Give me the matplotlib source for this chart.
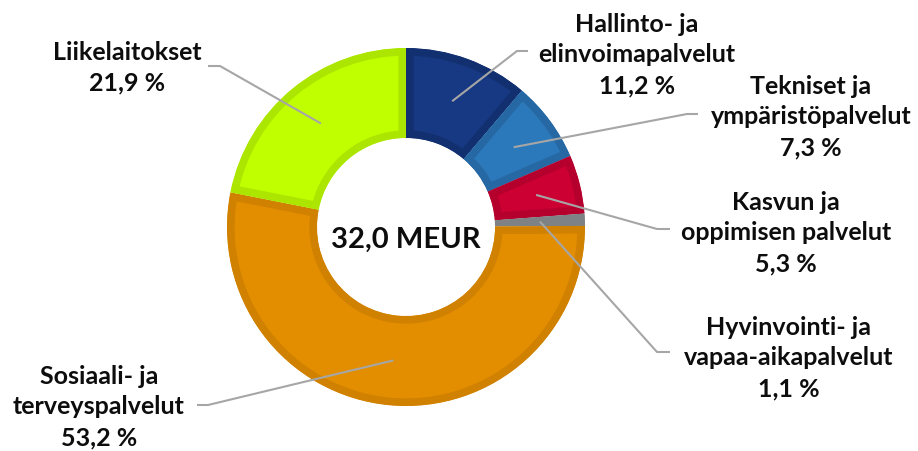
import numpy as np
import matplotlib.pyplot as plt

# data
categories = ['Hallinto- ja\nelinvoimapalvelut', 'Tekniset ja\nympäristöpalvelut',
              'Kasvun ja\noppimisen palvelut', 'Hyvinvointi- ja\nvapaa-aikapalvelut',
              'Sosiaali- ja\nterveyspalvelut', 'Liikelaitokset']
shares = [11.2, 7.3, 5.3, 1.1, 53.2, 21.9]
share_labels = ['11,2 %', '7,3 %', '5,3 %', '1,1 %', '53,2 %', '21,9 %']
total_label = '32,0 MEUR'

fill_colors = ['#173882', '#2B78BA', '#CC0033', '#8C9094', '#E38E00', '#BFFF00']
edge_colors = ['#12306F', '#2668A3', '#B5002E', '#7E8285', '#D08100', '#ACE500']

# layout (pixel coords, y from top)
W, H = 918, 452
center = (406, 228)
r_out, r_in = 179, 89
label_pos = [(637, 55), (811, 117), (786, 233), (789, 358), (99, 407), (127, 68)]
knees = [(517, 52), (687, 115), (657, 230), (657, 353), (208, 406), (220, 67)]
ends = [(528, 52), (698, 115), (670, 230), (670, 353), (197, 406), (208, 67)]

plt.rcParams['font.family'] = ['Lato', 'DejaVu Sans']


def fy(y):
    return H - y


fig = plt.figure(figsize=(W / 100, H / 100), dpi=100)
ax = fig.add_axes([0, 0, 1, 1])

wedges, _ = ax.pie(shares, colors=fill_colors, startangle=90, counterclock=False,
                   radius=r_out, center=(center[0], fy(center[1])),
                   wedgeprops=dict(width=r_out - r_in, linewidth=0))

# darker inner border on each slice (stroke clipped to the slice itself)
for w, ec in zip(wedges, edge_colors):
    w.set_edgecolor(ec)
    w.set_linewidth(11)
    w.set_clip_on(True)
    w.set_clip_path(w)

# leader lines from mid-ring of each slice
r_mid = (r_out + r_in) / 2
for w, knee, end in zip(wedges, knees, ends):
    ang = np.deg2rad((w.theta1 + w.theta2) / 2)
    px = w.center[0] + r_mid * np.cos(ang)
    py = w.center[1] + r_mid * np.sin(ang)
    ax.plot([px, knee[0], end[0]], [py, fy(knee[1]), fy(end[1])],
            color='#A6A6A6', linewidth=1.5, solid_capstyle='butt', zorder=3)

for cat, pct, pos in zip(categories, share_labels, label_pos):
    ax.text(pos[0], fy(pos[1]), cat + '\n' + pct, ha='center', va='center',
            fontsize=18, fontweight='bold', color='#0D0D0D', linespacing=1.4)

ax.text(center[0], fy(240), total_label, ha='center', va='center',
        fontsize=21, fontweight='bold', color='#0D0D0D')

ax.set_xlim(0, W)
ax.set_ylim(0, H)
ax.set_aspect('auto')
ax.axis('off')

fig.savefig('out.png', dpi=100)
